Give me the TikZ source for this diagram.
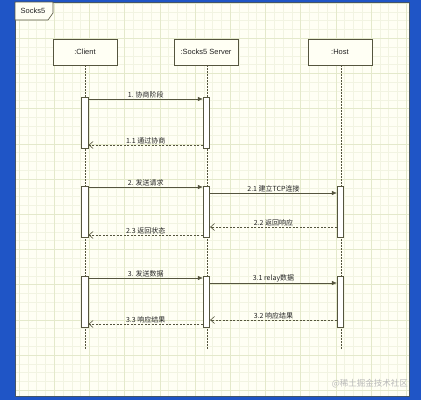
\documentclass[tikz,border=0pt]{standalone}
\usepackage{fontspec}
\setmainfont{Liberation Sans}
\newfontfamily\cjk{Noto Sans CJK SC}
\usetikzlibrary{arrows.meta,calc}
\definecolor{bgblue}{HTML}{1F55C6}
\definecolor{panel}{HTML}{FFFFF4}
\definecolor{gridminor}{HTML}{F2F4E2}
\definecolor{gridmajor}{HTML}{E4E9CB}
\definecolor{ink}{HTML}{55553E}
\definecolor{txt}{HTML}{222222}
\tikzset{
  objbox/.style={draw=ink, line width=0.7pt, fill=panel, minimum width=64pt, minimum height=26pt, inner sep=0pt, font=\fontsize{7.5}{9}\selectfont, text=txt},
  bar/.style={draw=ink, line width=0.7pt, fill=white, minimum width=6.5pt, inner sep=0pt},
  lifeline/.style={draw=ink, line width=0.6pt, dash pattern=on 1.5pt off 1.5pt},
  call/.style={draw=ink, line width=0.6pt, -{Latex[length=5pt,width=4.5pt]}},
  reply/.style={draw=ink, line width=0.6pt, dash pattern=on 2pt off 1.5pt, -{Straight Barb[length=4pt,width=7pt]}},
  lbl/.style={font=\cjk\fontsize{7}{8}\selectfont, text=txt, inner sep=1pt, above}
}
\begin{document}
\begin{tikzpicture}[x=1pt,y=-1pt]
\useasboundingbox (0,0) rectangle (421,400);
\fill[bgblue] (0,0) rectangle (421,400);
\fill[panel] (15,2) rectangle (409,396);
\begin{scope}
  \clip (15,2) rectangle (409,396);
  \foreach \i in {-1,...,45} {
    \draw[gridminor, line width=0.5pt] ({19+8.8*\i},0) -- ({19+8.8*\i},400);
    \draw[gridminor, line width=0.5pt] (0,{3+8.8*\i}) -- (421,{3+8.8*\i});
  }
  \foreach \i in {0,...,12} {
    \draw[gridmajor, line width=0.6pt] ({19+35.2*\i},0) -- ({19+35.2*\i},400);
    \draw[gridmajor, line width=0.6pt] (0,{3+35.2*\i}) -- (421,{3+35.2*\i});
  }
\end{scope}
\draw[ink!70!bgblue, line width=0.8pt] (15,2) rectangle (409,396);
% frame label
\draw[ink, line width=0.6pt, fill=panel] (15,2) -- (53,2) -- (53,13) -- (48,20) -- (15,20) -- cycle;
\node[font=\fontsize{7.5}{9}\selectfont, text=txt] (frame) at (33,11) {Socks5};
% objects
\node[objbox] (client) at (85,52) {:Client};
\node[objbox] (server) at (206,52) {:Socks5 Server};
\node[objbox] (host) at (340,52) {:Host};
\coordinate (cend) at (85,350);
\coordinate (send) at (207,350);
\coordinate (hend) at (341,350);
\draw[lifeline] (client.south) -- (cend);
\draw[lifeline] ($(server.south)+(1,0)$) -- (send);
\draw[lifeline] ($(host.south)+(1,0)$) -- (hend);
% activation bars
\node[bar, minimum height=51pt] (cb1) at (85,122.5) {};
\node[bar, minimum height=51pt] (sb1) at (206.5,122.5) {};
\node[bar, minimum height=51pt] (cb2) at (85,211.5) {};
\node[bar, minimum height=51pt] (sb2) at (206.5,211.5) {};
\node[bar, minimum height=51pt] (hb2) at (340.5,211.5) {};
\node[bar, minimum height=51pt] (cb3) at (85,301.5) {};
\node[bar, minimum height=51pt] (sb3) at (206.5,301.5) {};
\node[bar, minimum height=51pt] (hb3) at (340.5,301.5) {};
% messages
\draw[call] (cb1.east |- 0,99) -- node[lbl] {1. 协商阶段} (sb1.west |- 0,99);
\draw[reply] (sb1.west |- 0,145) -- node[lbl] {1.1 通过协商} (cb1.east |- 0,145);
\draw[call] (cb2.east |- 0,187) -- node[lbl] {2. 发送请求} (sb2.west |- 0,187);
\draw[call] (sb2.east |- 0,193) -- node[lbl] {2.1 建立TCP连接} (hb2.west |- 0,193);
\draw[reply] (hb2.west |- 0,227) -- node[lbl] {2.2 返回响应} (sb2.east |- 0,227);
\draw[reply] (sb2.west |- 0,235) -- node[lbl] {2.3 返回状态} (cb2.east |- 0,235);
\draw[call] (cb3.east |- 0,278) -- node[lbl] {3. 发送数据} (sb3.west |- 0,278);
\draw[call] (sb3.east |- 0,283) -- node[lbl] {3.1 relay数据} (hb3.west |- 0,283);
\draw[reply] (hb3.west |- 0,320) -- node[lbl] {3.2 响应结果} (sb3.east |- 0,320);
\draw[reply] (sb3.west |- 0,324) -- node[lbl] {3.3 响应结果} (cb3.east |- 0,324);
% watermark
\node[font=\cjk\fontsize{8.5}{10}\selectfont, text=gray!55, anchor=east, inner sep=0pt] (wm) at (408,384) {@稀土掘金技术社区};
\end{tikzpicture}
\end{document}
